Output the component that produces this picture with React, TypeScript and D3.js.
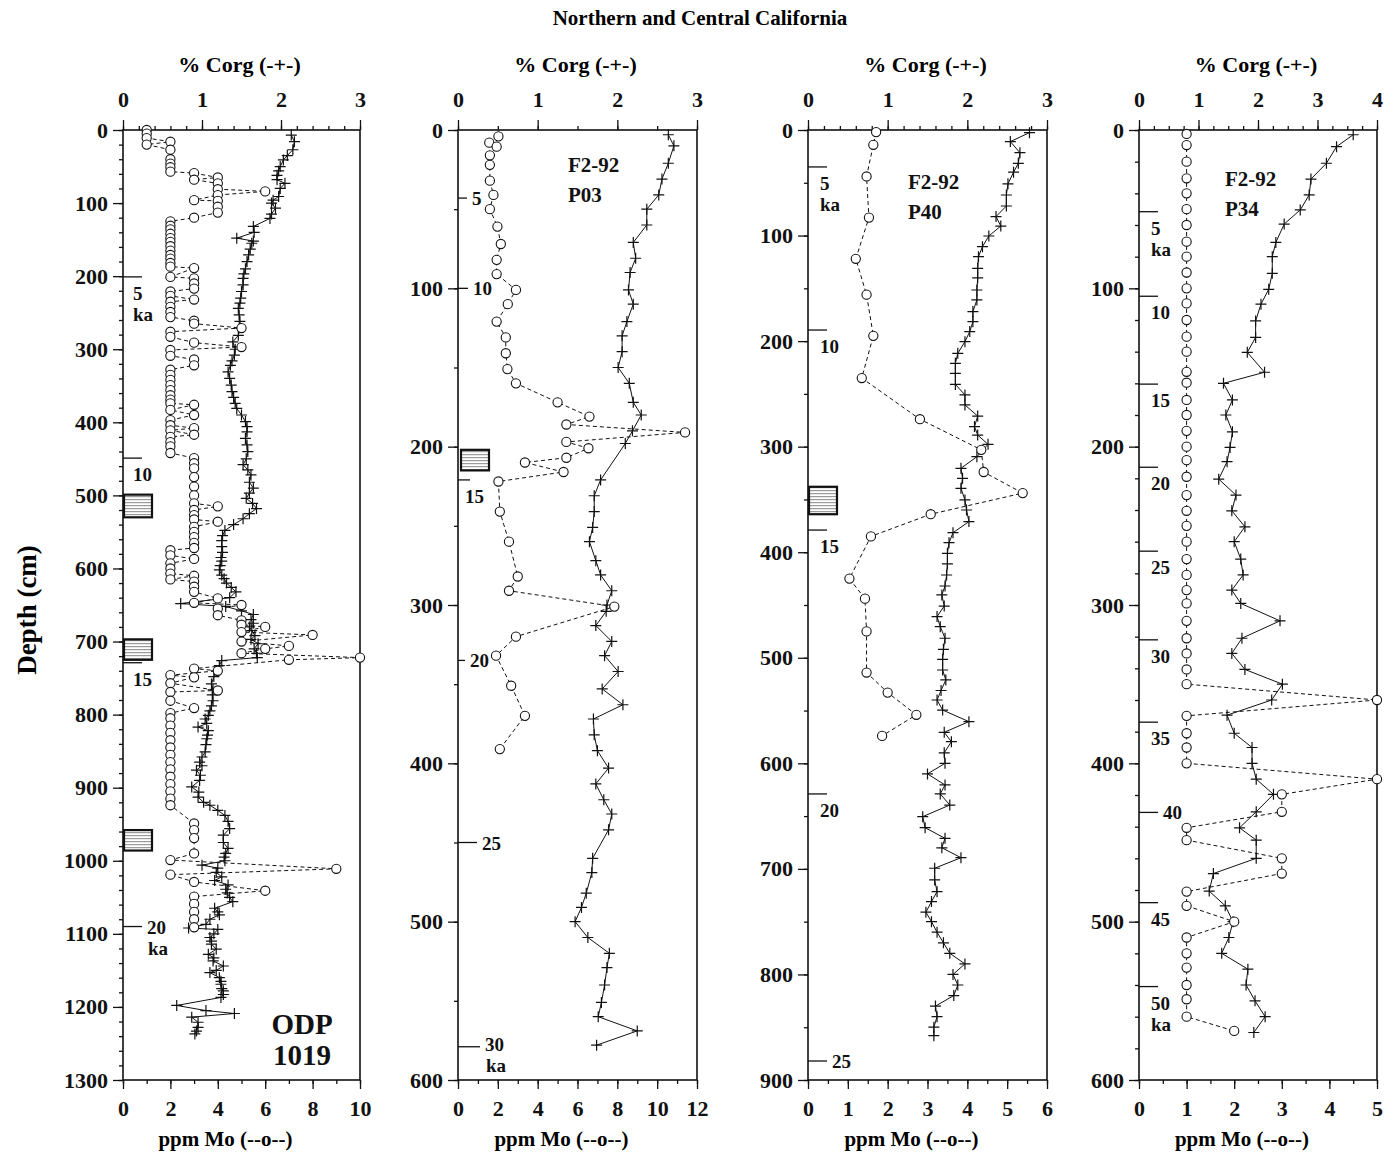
import React, { useEffect, useRef } from 'react';
import * as d3 from 'd3';

// [depth cm, value] pairs

// ODP 1019
const odpMo: [number, number][] = [
  [0, 1], [5, 1], [11, 1], [16, 2], [20, 1], [27, 2], [40, 2], [46, 2], [51, 2], [57, 2], [59, 3], [65, 4], [68, 3],
  [73, 4], [81, 4], [84, 6], [89, 4], [96, 3], [97, 4], [105, 4], [113, 4], [120, 3], [125, 2], [131, 2], [136, 2],
  [142, 2], [148, 2], [153, 2], [159, 2], [165, 2], [171, 2], [176, 2], [182, 2], [187, 2], [189, 3], [201, 2],
  [203, 3], [210, 3], [217, 3], [221, 2], [227, 2], [232, 3], [235, 2], [242, 2], [249, 2], [256, 2], [261, 3],
  [265, 3], [271, 5], [276, 2], [283, 2], [291, 3], [297, 5], [301, 2], [309, 2], [314, 3], [322, 3], [328, 2],
  [335, 2], [342, 2], [349, 2], [356, 2], [363, 2], [369, 2], [374, 2], [376, 3], [383, 2], [390, 3], [397, 2],
  [404, 2], [408, 3], [411, 2], [417, 3], [420, 2], [427, 2], [433, 2], [442, 2], [449, 3], [456, 3], [463, 3],
  [475, 3], [488, 3], [500, 3], [511, 3], [515, 4], [520, 3], [527, 3], [533, 3], [536, 4], [543, 3], [550, 3],
  [557, 3], [565, 3], [572, 3], [575, 2], [582, 2], [587, 3], [593, 2], [600, 2], [607, 2], [610, 3], [615, 2],
  [618, 3], [625, 3], [632, 3], [641, 4], [647, 3], [650, 5], [655, 4], [664, 4], [671, 5], [677, 5], [680, 6],
  [687, 5], [691, 8], [700, 5], [706, 7], [710, 6], [716, 5], [722, 10], [725, 7], [737, 3], [740, 4], [746, 2],
  [749, 3], [757, 2], [767, 4], [769, 2], [781, 2], [791, 3], [798, 2], [805, 2], [815, 2], [825, 2], [835, 2],
  [845, 2], [855, 2], [865, 2], [875, 2], [885, 2], [895, 2], [905, 2], [915, 2], [924, 2], [949, 3], [958, 3],
  [969, 3], [990, 3], [999, 2], [1011, 9], [1019, 2], [1029, 3], [1041, 6], [1049, 3], [1059, 3], [1070, 3],
  [1080, 3], [1091, 3],
];
const odpCorg: [number, number][] = [
  [7, 2.13], [16, 2.17], [27, 2.15], [35, 2.08], [41, 2.03], [50, 1.99], [56, 1.97], [62, 1.95], [68, 1.95],
  [73, 2.05], [80, 1.99], [91, 1.97], [96, 1.9], [100, 1.88], [107, 1.93], [115, 1.88], [121, 1.86], [132, 1.65],
  [140, 1.66], [148, 1.44], [152, 1.65], [155, 1.63], [163, 1.61], [171, 1.59], [180, 1.57], [190, 1.55],
  [197, 1.53], [203, 1.52], [212, 1.52], [221, 1.5], [230, 1.49], [237, 1.48], [244, 1.46], [253, 1.47],
  [262, 1.48], [271, 1.47], [281, 1.46], [290, 1.39], [300, 1.42], [308, 1.41], [316, 1.38], [322, 1.36],
  [331, 1.33], [340, 1.35], [349, 1.37], [358, 1.38], [366, 1.4], [374, 1.42], [381, 1.44], [390, 1.5],
  [399, 1.55], [406, 1.57], [413, 1.57], [422, 1.55], [431, 1.57], [440, 1.58], [450, 1.56], [458, 1.52],
  [465, 1.58], [472, 1.62], [482, 1.6], [490, 1.65], [497, 1.6], [504, 1.56], [511, 1.64], [518, 1.69],
  [525, 1.6], [532, 1.52], [540, 1.4], [548, 1.29], [555, 1.26], [562, 1.25], [570, 1.25], [578, 1.26],
  [585, 1.24], [590, 1.25], [596, 1.23], [602, 1.22], [609, 1.25], [614, 1.28], [620, 1.31], [626, 1.37],
  [632, 1.43], [640, 1.35], [648, 0.73], [652, 1.3], [658, 1.5], [663, 1.65], [670, 1.62], [675, 1.65],
  [680, 1.6], [685, 1.63], [692, 1.67], [697, 1.62], [703, 1.71], [710, 1.66], [716, 1.69], [722, 1.7],
  [726, 1.25], [733, 1.22], [740, 1.18], [748, 1.15], [758, 1.12], [766, 1.14], [773, 1.13], [781, 1.14],
  [788, 1.12], [795, 1.1], [801, 1.08], [806, 1.04], [812, 1.06], [817, 0.95], [822, 1.08], [828, 1.07],
  [833, 1.06], [841, 1.05], [851, 1.04], [858, 1.0], [865, 0.97], [870, 1.0], [876, 0.93], [883, 0.98],
  [890, 0.97], [899, 0.87], [906, 0.96], [913, 0.95], [920, 1.02], [924, 1.1], [931, 1.2], [938, 1.29],
  [946, 1.33], [956, 1.35], [965, 1.27], [975, 1.27], [983, 1.33], [990, 1.3], [995, 1.28], [1000, 1.29],
  [1006, 1.0], [1010, 1.2], [1016, 1.18], [1022, 1.25], [1027, 1.16], [1033, 1.33], [1039, 1.3], [1044, 1.32],
  [1050, 1.35], [1056, 1.39], [1065, 1.16], [1070, 1.2], [1074, 1.22], [1080, 1.1], [1087, 1.05], [1092, 0.83],
  [1094, 1.2], [1100, 1.15], [1105, 1.1], [1110, 1.12], [1114, 1.12], [1121, 1.18], [1128, 1.08], [1133, 1.15],
  [1137, 1.14], [1144, 1.27], [1150, 1.18], [1153, 1.1], [1160, 1.22], [1165, 1.24], [1169, 1.24], [1175, 1.25],
  [1178, 1.27], [1183, 1.27], [1187, 1.24], [1198, 0.68], [1205, 1.05], [1209, 1.41], [1214, 0.87],
  [1221, 0.95], [1228, 0.95], [1233, 0.93], [1237, 0.91],
];

// F2-92 P03
const p03Mo: [number, number][] = [
  [4, 2.03], [8, 1.57], [10.5, 1.94], [16, 1.6], [22, 1.6], [32, 1.6], [41, 1.78], [50, 1.6], [61, 1.98],
  [72, 2.15], [82, 1.94], [91, 1.94], [101, 2.91], [110, 2.5], [121, 1.94], [131, 2.4], [141, 2.4], [151, 2.48],
  [160, 2.91], [172, 5.0], [181, 6.6], [186, 5.44], [191, 11.4], [197, 5.44], [201, 6.55], [207, 5.44],
  [210, 3.36], [216, 5.3], [222, 2.03], [241, 2.1], [260, 2.56], [282, 3.0], [291, 2.56], [301, 7.85],
  [320, 2.91], [332, 1.91], [351, 2.67], [370, 3.36], [391, 2.1],
];
const p03Corg: [number, number][] = [
  [3, 2.64], [10, 2.71], [21, 2.64], [31, 2.56], [41, 2.52], [50, 2.37], [60, 2.37], [71, 2.2], [81, 2.23],
  [90, 2.16], [101, 2.14], [110, 2.2], [121, 2.12], [130, 2.06], [140, 2.06], [150, 2.01], [160, 2.15],
  [172, 2.2], [180, 2.3], [190, 2.19], [198, 2.1], [221, 1.79], [231, 1.71], [241, 1.71], [251, 1.69],
  [260, 1.65], [272, 1.73], [281, 1.79], [291, 1.93], [300, 1.87], [304, 1.86], [313, 1.73], [323, 1.93],
  [332, 1.84], [342, 2.01], [353, 1.81], [363, 2.07], [372, 1.7], [382, 1.71], [392, 1.75], [403, 1.89],
  [413, 1.73], [423, 1.83], [432, 1.93], [442, 1.89], [460, 1.69], [469, 1.68], [482, 1.61], [491, 1.55],
  [500, 1.47], [510, 1.63], [520, 1.9], [529, 1.87], [540, 1.84], [551, 1.8], [560, 1.76], [569, 2.25],
  [578, 1.74],
];

// F2-92 P40
const p40Mo: [number, number][] = [
  [2, 1.71], [14, 1.64], [44, 1.47], [83, 1.53], [122, 1.2], [156, 1.47], [195, 1.64], [235, 1.35], [274, 2.81],
  [303, 4.35], [324, 4.41], [344, 5.39], [364, 3.08], [385, 1.58], [425, 1.04], [444, 1.43], [475, 1.47],
  [514, 1.47], [533, 2.0], [554, 2.72], [574, 1.86],
];
const p40Corg: [number, number][] = [
  [2.5, 2.78], [11, 2.54], [21.5, 2.66], [31.6, 2.64], [40, 2.58], [51, 2.51], [61.6, 2.49], [72, 2.49],
  [82, 2.36], [91, 2.42], [100.4, 2.27], [110.5, 2.19], [120, 2.14], [131, 2.13], [140, 2.13], [151.6, 2.12],
  [161, 2.12], [172, 2.07], [181.6, 2.07], [191, 2.03], [200.5, 1.97], [211.6, 1.88], [221, 1.85], [230.5, 1.85],
  [241, 1.85], [251, 1.97], [260.5, 1.97], [271, 2.13], [281, 2.09], [289, 2.13], [297.8, 2.26], [309.5, 2.12],
  [320.5, 1.92], [330, 1.94], [339.5, 1.92], [350.5, 1.97], [360, 1.99], [371, 2.02], [381.5, 1.82], [391, 1.77],
  [401, 1.75], [411, 1.75], [421.6, 1.74], [432, 1.72], [440.5, 1.68], [451, 1.71], [461, 1.62], [470.5, 1.66],
  [481.5, 1.72], [492, 1.7], [501.5, 1.69], [511.6, 1.69], [521, 1.73], [531, 1.67], [540, 1.62], [549.5, 1.69],
  [560.5, 2.02], [570.6, 1.71], [579.5, 1.8], [590, 1.71], [600, 1.72], [610, 1.5], [620.5, 1.72], [629, 1.66],
  [639.5, 1.78], [650.5, 1.44], [661, 1.47], [671, 1.72], [680, 1.68], [689.4, 1.92], [699.4, 1.59],
  [710.5, 1.59], [721.6, 1.62], [731, 1.55], [741, 1.48], [750, 1.55], [760, 1.62], [770, 1.7], [780, 1.78],
  [790, 1.97], [800, 1.82], [810, 1.88], [820, 1.83], [830, 1.6], [840, 1.62], [850, 1.58], [858, 1.58],
];

// F2-92 P34
const p34Mo: [number, number][] = [
  [2.5, 1], [9.5, 1], [20, 1], [30.5, 1], [40, 1], [50, 1], [60, 1], [70.5, 1], [80, 1], [90, 1], [100, 1],
  [109.5, 1], [120, 1], [130.5, 1], [140, 1], [152.7, 1], [159.6, 1], [170.5, 1], [180, 1], [190, 1], [200, 1],
  [208.5, 1], [219, 1], [230.6, 1], [240.5, 1], [250, 1], [260, 1], [271, 1], [281, 1], [290.6, 1], [299, 1],
  [310, 1], [321, 1], [330.6, 1], [340.7, 1], [350, 1], [360, 5], [370, 1], [381, 1], [390, 1], [400, 1],
  [410, 5], [419.6, 3], [430.6, 3], [440.7, 1], [448.5, 1], [460, 3], [469.6, 3], [481, 1], [490, 1], [500, 2],
  [510, 1], [520, 1], [529, 1], [540, 1], [549, 1], [560, 1], [569, 2],
];
const p34Corg: [number, number][] = [
  [3, 3.6], [10.5, 3.32], [21, 3.15], [31, 2.89], [41, 2.86], [50.5, 2.71], [59.4, 2.44], [71, 2.3], [80, 2.24],
  [90.5, 2.24], [100.6, 2.18], [110, 2.05], [120.6, 1.96], [131, 1.96], [140.4, 1.82], [153, 2.11], [160, 1.42],
  [170.5, 1.57], [180, 1.46], [190.6, 1.57], [200.5, 1.53], [209.5, 1.48], [220.5, 1.34], [230.6, 1.63],
  [240.5, 1.56], [250.6, 1.78], [260, 1.6], [271, 1.71], [281, 1.75], [290.6, 1.56], [299, 1.71], [310, 2.37],
  [321, 1.73], [330.6, 1.56], [340.7, 1.78], [350, 2.41], [360, 2.23], [369.6, 1.48], [381, 1.6], [390, 1.9],
  [400, 1.9], [410, 1.97], [419.6, 2.26], [430.6, 1.97], [440.7, 1.69], [448.5, 1.97], [460, 1.97], [469.6, 1.25],
  [480.7, 1.18], [490, 1.45], [500, 1.58], [510, 1.51], [520, 1.39], [530, 1.83], [540, 1.8], [550, 1.95],
  [560, 2.12], [570, 1.93],
];

// age markers (ka) : depth, label, with "ka" line, label side
type Age = { d: number; t: string; ka?: boolean; pos: 'below' | 'right'; len?: number; dy?: number };
const odpAges: Age[] = [
  { d: 201, t: '5', ka: true, pos: 'below' },
  { d: 449, t: '10', pos: 'below' },
  { d: 729, t: '15', pos: 'below' },
  { d: 1090, t: '20', ka: true, pos: 'right' },
];
const p03Ages: Age[] = [
  { d: 43, t: '5', pos: 'right', len: 9 },
  { d: 100, t: '10', pos: 'right', len: 10 },
  { d: 221, t: '15', pos: 'below', len: 12 },
  { d: 335, t: '20', pos: 'right', len: 7 },
  { d: 450, t: '25', pos: 'right', len: 19 },
  { d: 579, t: '30', ka: true, pos: 'right', len: 22, dy: -3 },
];
const p40Ages: Age[] = [
  { d: 35, t: '5', ka: true, pos: 'below' },
  { d: 189.5, t: '10', pos: 'below' },
  { d: 379, t: '15', pos: 'below' },
  { d: 629, t: '20', pos: 'below' },
  { d: 882, t: '25', pos: 'right' },
];
const p34Ages: Age[] = [
  { d: 51.6, t: '5', ka: true, pos: 'below' },
  { d: 105, t: '10', pos: 'below' },
  { d: 160.5, t: '15', pos: 'below' },
  { d: 213, t: '20', pos: 'below' },
  { d: 266, t: '25', pos: 'below' },
  { d: 322, t: '30', pos: 'below' },
  { d: 374, t: '35', pos: 'below' },
  { d: 431, t: '40', pos: 'right' },
  { d: 488, t: '45', pos: 'below' },
  { d: 541, t: '50', ka: true, pos: 'below' },
];

// laminated intervals (top, bottom depth)
const odpBoxes: [number, number][] = [[499, 530], [697, 725], [958, 986]];
const p03Boxes: [number, number][] = [[202, 215]];
const p40Boxes: [number, number][] = [[338, 364]];

const TOP = 130;
const BOTTOM = 1080;
const FONT = '"Liberation Serif", "Times New Roman", Times, serif';

const panels = [
  { left: 123, right: 360, depthMax: 1300, yMinor: 20, moMax: 10, moMajor: 2, moMinor: 1, corgMax: 3, corgMinor: 0.2,
    mo: odpMo, corg: odpCorg, ages: odpAges, ageDx: 10, boxes: odpBoxes, boxDx: 1,
    name: ['ODP', '1019'], nameX: 302, nameY: 1034, nameSize: 29, nameAnchor: 'middle', nameGap: 31 },
  { left: 458, right: 697, depthMax: 600, yMinor: 50, moMax: 12, moMajor: 2, moMinor: 1, corgMax: 3, corgMinor: 0.5,
    mo: p03Mo, corg: p03Corg, ages: p03Ages, ageDx: 7, boxes: p03Boxes, boxDx: 3,
    name: ['F2-92', 'P03'], nameX: 568, nameY: 172, nameSize: 21, nameAnchor: 'start', nameGap: 30 },
  { left: 808, right: 1047, depthMax: 900, yMinor: 50, moMax: 6, moMajor: 1, moMinor: 0.5, corgMax: 3, corgMinor: 0.2,
    mo: p40Mo, corg: p40Corg, ages: p40Ages, ageDx: 12, boxes: p40Boxes, boxDx: 1,
    name: ['F2-92', 'P40'], nameX: 908, nameY: 189, nameSize: 21, nameAnchor: 'start', nameGap: 30 },
  { left: 1139, right: 1377, depthMax: 600, yMinor: 20, moMax: 5, moMajor: 1, moMinor: 0.5, corgMax: 4, corgMinor: 0.25,
    mo: p34Mo, corg: p34Corg, ages: p34Ages, ageDx: 12, boxes: [] as [number, number][], boxDx: 1,
    name: ['F2-92', 'P34'], nameX: 1225, nameY: 186, nameSize: 21, nameAnchor: 'start', nameGap: 30 },
];

const App = () => {
  const ref = useRef<SVGSVGElement>(null);

  useEffect(() => {
    const svg = d3.select(ref.current);
    svg.selectAll('*').remove();

    const defs = svg.append('defs');
    const pat = defs.append('pattern').attr('id', 'lam').attr('patternUnits', 'userSpaceOnUse')
      .attr('width', 6).attr('height', 3);
    pat.append('rect').attr('width', 6).attr('height', 3).attr('fill', '#fff');
    pat.append('rect').attr('y', 1).attr('width', 6).attr('height', 1.2).attr('fill', '#9a9a9a');

    // title
    svg.append('text').attr('x', 700).attr('y', 25).attr('text-anchor', 'middle')
      .attr('font-family', FONT).attr('font-weight', 'bold').attr('font-size', 21)
      .text('Northern and Central California');

    svg.append('text').attr('transform', 'translate(36,610) rotate(-90)').attr('text-anchor', 'middle')
      .attr('font-family', FONT).attr('font-weight', 'bold').attr('font-size', 27)
      .text('Depth (cm)');

    panels.forEach((p) => {
      const g = svg.append('g');
      const y = d3.scaleLinear().domain([0, p.depthMax]).range([TOP, BOTTOM]);
      const xMo = d3.scaleLinear().domain([0, p.moMax]).range([p.left, p.right]);
      const xC = d3.scaleLinear().domain([0, p.corgMax]).range([p.left, p.right]);
      const eps = 1e-6;

      const tickStyle = (sel: any) => {
        sel.select('.domain').remove();
        sel.selectAll('line').attr('stroke', '#111').attr('stroke-width', 1.3);
        sel.selectAll('text').attr('font-family', FONT).attr('font-weight', 'bold')
          .attr('font-size', 22).attr('fill', '#111');
      };

      // left axis
      g.append('g').attr('transform', `translate(${p.left},0)`)
        .call(d3.axisLeft(y).tickValues(d3.range(0, p.depthMax + eps, p.yMinor)).tickSize(4).tickSizeOuter(0).tickFormat(() => ''))
        .call(tickStyle);
      g.append('g').attr('transform', `translate(${p.left},0)`)
        .call(d3.axisLeft(y).tickValues(d3.range(0, p.depthMax + eps, 100)).tickSize(10).tickSizeOuter(0).tickPadding(5).tickFormat(d3.format('d')))
        .call(tickStyle);

      // top axis (% Corg)
      g.append('g').attr('transform', `translate(0,${TOP})`)
        .call(d3.axisTop(xC).tickValues(d3.range(0, p.corgMax + eps, p.corgMinor)).tickSize(4).tickSizeOuter(0).tickFormat(() => ''))
        .call(tickStyle);
      g.append('g').attr('transform', `translate(0,${TOP})`)
        .call(d3.axisTop(xC).tickValues(d3.range(0, p.corgMax + eps, 1)).tickSize(10).tickSizeOuter(0).tickPadding(13).tickFormat(d3.format('d')))
        .call(tickStyle);

      // bottom axis (ppm Mo)
      g.append('g').attr('transform', `translate(0,${BOTTOM})`)
        .call(d3.axisBottom(xMo).tickValues(d3.range(0, p.moMax + eps, p.moMinor)).tickSize(4).tickSizeOuter(0).tickFormat(() => ''))
        .call(tickStyle);
      g.append('g').attr('transform', `translate(0,${BOTTOM})`)
        .call(d3.axisBottom(xMo).tickValues(d3.range(0, p.moMax + eps, p.moMajor)).tickSize(9).tickSizeOuter(0).tickPadding(11).tickFormat(d3.format('d')))
        .call(tickStyle);

      // frame
      g.append('rect').attr('x', p.left).attr('y', TOP).attr('width', p.right - p.left).attr('height', BOTTOM - TOP)
        .attr('fill', 'none').attr('stroke', '#111').attr('stroke-width', 1.6);

      const cx = (p.left + p.right) / 2;
      g.append('text').attr('x', cx - 2).attr('y', 72).attr('text-anchor', 'middle')
        .attr('font-family', FONT).attr('font-weight', 'bold').attr('font-size', 22).text('% Corg (-+-)');
      g.append('text').attr('x', cx - 16).attr('y', 1146).attr('text-anchor', 'middle')
        .attr('font-family', FONT).attr('font-weight', 'bold').attr('font-size', 21).text('ppm Mo (--o--)');

      // laminated boxes
      p.boxes.forEach(([d0, d1]) => {
        g.append('rect').attr('x', p.left + p.boxDx).attr('y', y(d0)).attr('width', 28).attr('height', y(d1) - y(d0))
          .attr('fill', 'url(#lam)').attr('stroke', '#111').attr('stroke-width', 2.2);
      });

      // age markers
      p.ages.forEach((a) => {
        const yy = y(a.d);
        const len = a.len ?? 19;
        g.append('line').attr('x1', p.left).attr('x2', p.left + len).attr('y1', yy).attr('y2', yy)
          .attr('stroke', '#111').attr('stroke-width', 1.3);
        const tx = a.pos === 'below' ? p.left + p.ageDx : p.left + len + 5;
        const ty = a.pos === 'below' ? yy + 23 : yy + 7 + (a.dy ?? 0);
        const t = g.append('text').attr('font-family', FONT).attr('font-weight', 'bold').attr('font-size', 19).attr('fill', '#111');
        t.append('tspan').attr('x', tx).attr('y', ty).text(a.t);
        if (a.ka) t.append('tspan').attr('x', tx + (a.pos === 'below' ? 0 : 1)).attr('y', ty + 21).text('ka');
      });

      // Mo dashed line + circles, Corg solid line + crosses
      const lineMo = d3.line<[number, number]>().x((d) => xMo(d[1])).y((d) => y(d[0]));
      const lineC = d3.line<[number, number]>().x((d) => xC(d[1])).y((d) => y(d[0]));
      g.append('path').attr('d', lineMo(p.mo)).attr('fill', 'none').attr('stroke', '#111')
        .attr('stroke-width', 1).attr('stroke-dasharray', '4,3');
      g.append('path').attr('d', lineC(p.corg)).attr('fill', 'none').attr('stroke', '#111').attr('stroke-width', 1);

      g.selectAll('.cross').data(p.corg).enter().append('path')
        .attr('d', (d) => {
          const x = xC(d[1]);
          const yy = y(d[0]);
          return `M${x - 5.5},${yy}H${x + 5.5}M${x},${yy - 5.5}V${yy + 5.5}`;
        })
        .attr('stroke', '#111').attr('stroke-width', 1.2);

      g.selectAll('.circ').data(p.mo).enter().append('circle')
        .attr('cx', (d) => xMo(d[1])).attr('cy', (d) => y(d[0])).attr('r', 4.6)
        .attr('fill', '#fff').attr('stroke', '#111').attr('stroke-width', 1.1);

      // core name, one text per line
      p.name.forEach((s, i) => {
        g.append('text').attr('font-family', FONT).attr('font-weight', 'bold')
          .attr('font-size', p.nameSize).attr('text-anchor', p.nameAnchor).attr('fill', '#111')
          .attr('x', p.nameX).attr('y', p.nameY + i * p.nameGap).text(s);
      });
    });
  }, []);

  return (
    <svg ref={ref} width={1398} height={1157} style={{ position: 'absolute', left: 0, top: 0, background: '#fff' }} />
  );
};

export default App;
